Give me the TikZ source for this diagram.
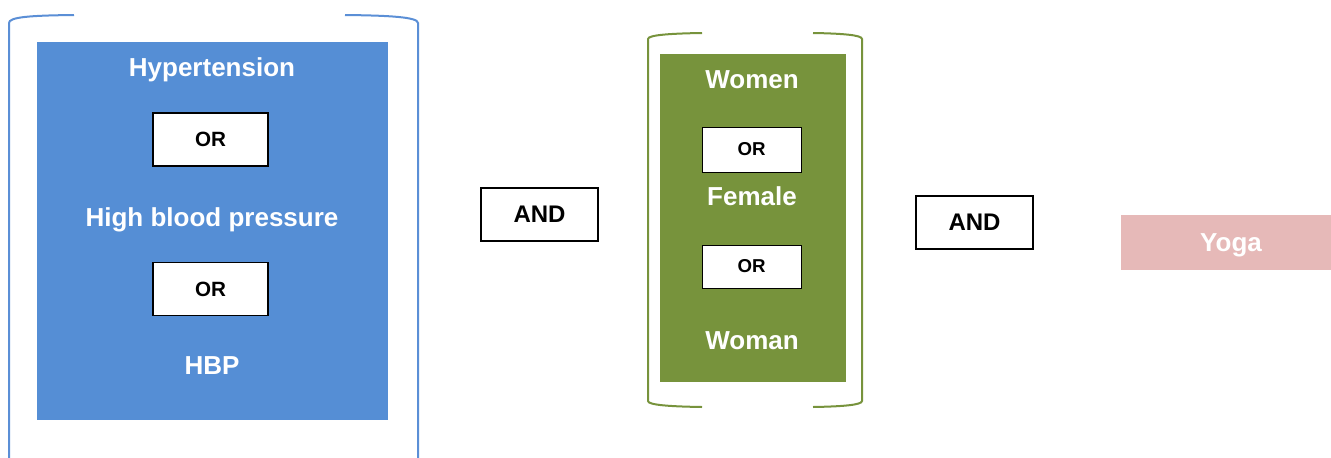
\documentclass[tikz,border=0pt]{standalone}
\usepackage{fontspec}
\setmainfont{Liberation Sans}
\usepackage{tikz}
\usetikzlibrary{shadows}

\definecolor{hbpblue}{HTML}{558ED5}
\definecolor{brblue}{HTML}{5B8FD6}
\definecolor{womgreen}{HTML}{77933C}
\definecolor{yogapink}{HTML}{E6B9B8}

\tikzset{
	term/.style={text=white,anchor=base,font=\fontsize{19.5}{23}\selectfont\bfseries},
	orbox/.style={draw=black,fill=white,line width=1pt,inner sep=0pt,
		font=\fontsize{14}{16}\selectfont\bfseries},
	andbox/.style={draw=black,fill=white,line width=1pt,inner sep=0pt,
		minimum width=87.75pt,minimum height=39.75pt,
		font=\fontsize{18}{21}\selectfont\bfseries},
	bracket/.style={line width=1.5pt}
}

\begin{document}
\begin{tikzpicture}[x=0.75pt,y=-0.75pt]
	\useasboundingbox (0,0) rectangle (1331,457);
	
	% hypertension group
	\draw[bracket,brblue] (74,15) .. controls (30,15.5) and (9,17) .. (9,23) -- (9,460);
	\draw[bracket,brblue] (345,15) .. controls (389,15.5) and (418,17) .. (418,23) -- (418,460);
	\node[fill=hbpblue,inner sep=0pt,minimum width=263.25pt,minimum height=283.5pt] (hbpbg) at (212.5,231) {};
	\node[term] (htn) at (212,76.5) {Hypertension};
	\node[orbox,minimum width=86.25pt,minimum height=39.75pt,font=\fontsize{15.5}{18}\selectfont\bfseries] (or1) at (210.5,139.5) {OR};
	\node[term] (hbp) at (212,226.5) {High blood pressure};
	\node[orbox,minimum width=86.25pt,minimum height=39.75pt,font=\fontsize{15.5}{18}\selectfont\bfseries] (or2) at (210.5,289) {OR};
	\node[term] (hbpabbr) at (212,374.5) {HBP};
	
	\node[andbox] (and1) at (539.5,214.5) {AND};
	
	% women group
	\draw[bracket,womgreen] (702,33) .. controls (670,33.5) and (648,35) .. (648,39)
		-- (648,401) .. controls (648,405) and (670,406.5) .. (702,407);
	\draw[bracket,womgreen] (813,33) .. controls (842,33.5) and (862,35) .. (862,39)
		-- (862,401) .. controls (862,405) and (842,406.5) .. (813,407);
	\node[fill=womgreen,inner sep=0pt,minimum width=139.5pt,minimum height=246pt] (wombg) at (753,218) {};
	\node[term] (women) at (752,88.5) {Women};
	\node[orbox,line width=0.6pt,minimum width=74.25pt,minimum height=33.75pt,
		drop shadow={shadow xshift=1pt,shadow yshift=-1pt,fill=black!75,opacity=1}] (or3) at (751.5,149.5) {OR};
	\node[term] (female) at (752,205.5) {Female};
	\node[orbox,line width=0.6pt,minimum width=74.25pt,minimum height=32.25pt,
		drop shadow={shadow xshift=1pt,shadow yshift=-1pt,fill=black!75,opacity=1}] (or4) at (751.5,266.5) {OR};
	\node[term] (woman) at (752,349.5) {Woman};
	
	\node[andbox] (and2) at (974.5,222.5) {AND};
	
	\node[fill=yogapink,inner sep=0pt,minimum width=165pt,minimum height=41.25pt] (yoga) at (1231,242.5) {};
	\node[term] (yogatxt) at (1231,251.5) {Yoga};
\end{tikzpicture}
\end{document}
